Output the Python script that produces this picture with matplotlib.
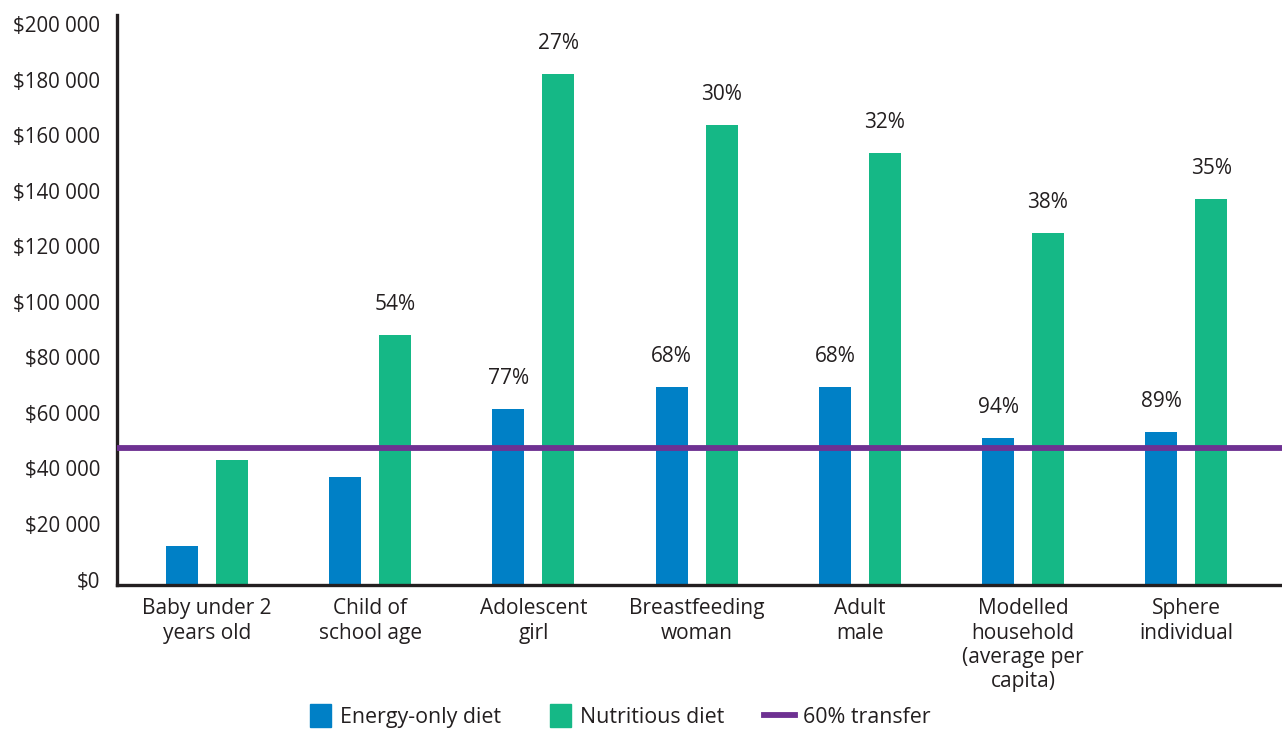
import matplotlib
matplotlib.use("Agg")
import matplotlib.pyplot as plt
import matplotlib.transforms as mtransforms
from matplotlib.patches import Patch, Rectangle
from matplotlib.lines import Line2D
from matplotlib.legend_handler import HandlerPatch
import numpy as np

plt.rcParams['font.family'] = ['Open Sans', 'DejaVu Sans']

# Annual cost per person, by diet type
categories = ["Baby under 2\nyears old", "Child of\nschool age", "Adolescent\ngirl",
              "Breastfeeding\nwoman", "Adult\nmale",
              "Modelled\nhousehold\n(average per\ncapita)", "Sphere\nindividual"]
energy_only = [13800, 38700, 63200, 71100, 71100, 52700, 54900]
nutritious = [44800, 89800, 183900, 165500, 155400, 126600, 138800]
transfer_60 = 49100

# Share of each diet covered by the 60% transfer
energy_pct = [None, None, "77%", "68%", "68%", "94%", "89%"]
nutritious_pct = [None, "54%", "27%", "30%", "32%", "38%", "35%"]

yticks = [0, 20000, 40000, 60000, 80000, 100000, 120000, 140000, 160000, 180000, 200000]
ytick_labels = ["$0", "$20 000", "$40 000", "$60 000", "$80 000", "$100 000",
                "$120 000", "$140 000", "$160 000", "$180 000", "$200 000"]

BLUE = "#0080c6"
GREEN = "#15b886"
PURPLE = "#6e3192"
TEXT = "#231f20"

fig = plt.figure(figsize=(12.82, 7.29), dpi=100)
ax = fig.add_axes([0.0913, 0.1982, 0.9087, 0.7812])

x = np.arange(len(categories))
w = 0.196
off = 0.153
bars_e = ax.bar(x - off, energy_only, w, color=BLUE, zorder=2)
bars_n = ax.bar(x + off, nutritious, w, color=GREEN, zorder=2)
ax.axhline(transfer_60, color=PURPLE, lw=4.2, zorder=3)

for bars, labels in ((bars_e, energy_pct), (bars_n, nutritious_pct)):
    for b, lab in zip(bars, labels):
        if lab is None:
            continue
        ax.annotate(lab, (b.get_x() + b.get_width() / 2, b.get_height()),
                    xytext=(0, 22), textcoords="offset points",
                    ha="center", va="center", fontsize=15, color=TEXT)

ax.set_xlim(-0.551, 6.587)
ax.set_ylim(0, 205200)
ax.set_yticks(yticks)
ax.set_yticklabels(ytick_labels, fontsize=14.8, color=TEXT)
ax.set_xticks(x)
ax.set_xticklabels(categories, fontsize=15, color=TEXT, linespacing=1.2)
ax.tick_params(axis="y", length=0, pad=12)
ax.tick_params(axis="x", length=0, pad=10)

# y labels sit a little above their gridline positions
shift = mtransforms.ScaledTranslation(0, 5 / 100, fig.dpi_scale_trans)
for lab in ax.get_yticklabels():
    lab.set_transform(lab.get_transform() + shift)

for side in ("top", "right"):
    ax.spines[side].set_visible(False)
for side in ("left", "bottom"):
    ax.spines[side].set_color(TEXT)
    ax.spines[side].set_linewidth(2.4)


def narrow_patch(legend, orig_handle, xdescent, ydescent, width, height, fontsize):
    pw = width * 0.68
    return Rectangle((width - pw - xdescent, -ydescent - 3), pw, height + 6)


handles = [Patch(color=BLUE), Patch(color=GREEN), Line2D([], [], color=PURPLE, lw=4.2)]
fig.legend(handles, ["Energy-only diet", "Nutritious diet", "60% transfer"],
           loc="center", bbox_to_anchor=(0.48, 0.016), ncol=3, frameon=False,
           fontsize=15.4, handlelength=1.45, handletextpad=0.4, columnspacing=1.85,
           labelcolor=TEXT,
           handler_map={Patch: HandlerPatch(patch_func=narrow_patch)})

fig.savefig("out.png", dpi=100)
